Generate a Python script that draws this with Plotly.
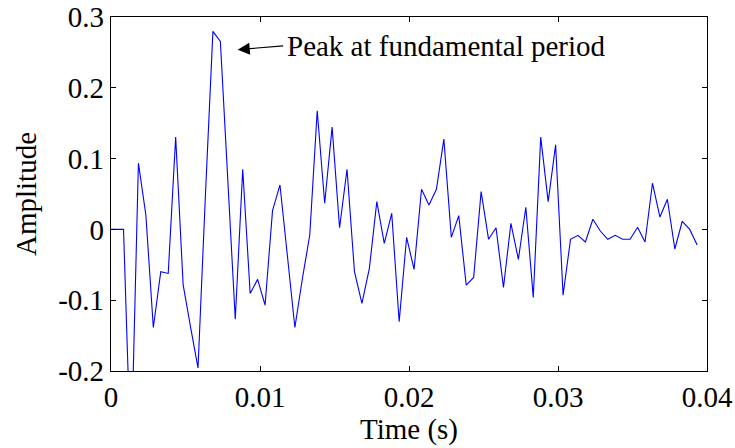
import numpy as np
import plotly.graph_objects as go

# Sampling grid (s)
t_start = 0.00084
dt = 0.0005

# Leading zero-padded section
pre_t = [0.0, 0.00034]
pre_v = [0.0, 0.0]

amplitude = [
    0.0, -0.33, 0.0935, 0.0204, -0.1385, -0.0598, -0.0622, 0.1303, -0.078, -0.138,
    -0.1957, 0.05, 0.2797, 0.2656, 0.07, -0.127, 0.085, -0.0905, -0.0706, -0.107,
    0.0265, 0.0628, -0.0375, -0.1385, -0.07, -0.008, 0.1675, 0.0369, 0.1444, 0.0024,
    0.085, -0.0598, -0.1046, -0.055, 0.0392, -0.0197, 0.0228, -0.1305, -0.0112, -0.0565,
    0.0567, 0.0345, 0.0567, 0.1275, -0.0112, 0.0194, -0.0787, -0.0678, 0.0534, -0.014,
    0.0024, -0.082, 0.0086, -0.0423, 0.0313, -0.096, 0.1303, 0.0392, 0.1194, -0.0928,
    -0.014, -0.0084, -0.0178, 0.0143, -0.0023, -0.014, -0.0084, -0.014, -0.014, 0.003,
    -0.0178, 0.0652, 0.0175, 0.0426, -0.0277, 0.0115, 0.0, -0.022,
]

x_ticks = [0, 0.01, 0.02, 0.03, 0.04]
x_ticktext = ["0", "0.01", "0.02", "0.03", "0.04"]
y_ticks = [-0.2, -0.1, 0, 0.1, 0.2, 0.3]
y_ticktext = ["-0.2", "-0.1", "0", "0.1", "0.2", "0.3"]

t = pre_t + list(t_start + dt * np.arange(len(amplitude)))
v = pre_v + amplitude

FONT = "Liberation Serif"
FS = 29

fig = go.Figure()
fig.add_trace(go.Scatter(x=t, y=v, mode="lines",
                         line=dict(color="#0000FF", width=1.1),
                         showlegend=False, hoverinfo="skip"))

axis_common = dict(showgrid=False, zeroline=False, showline=True, linecolor="black",
                   linewidth=1.3, mirror="allticks", ticks="inside", ticklen=5,
                   tickcolor="black", tickwidth=1.3, automargin=False,
                   tickfont=dict(family=FONT, size=FS, color="black"))

fig.update_xaxes(range=[0, 0.04], tickvals=x_ticks, ticktext=x_ticktext,
                 title=dict(text="Time (s)", font=dict(family=FONT, size=FS, color="black"), standoff=4),
                 **axis_common)
fig.update_yaxes(range=[-0.2, 0.3], tickvals=y_ticks, ticktext=y_ticktext,
                 title=dict(text="Amplitude", font=dict(family=FONT, size=FS, color="black"), standoff=12),
                 **axis_common)

# arrow
fig.add_annotation(x=0.0085, y=0.2538, xref="x", yref="y", text="",
                   showarrow=True, axref="pixel", ayref="pixel", ax=47, ay=-4,
                   arrowhead=2, arrowsize=2.2, arrowwidth=1.1, arrowcolor="black")
fig.add_annotation(x=0.01168, y=0.2596, xref="x", yref="y",
                   text="Peak at fundamental period", showarrow=False,
                   xanchor="left", yanchor="middle",
                   font=dict(family=FONT, size=FS, color="black"))

fig.update_layout(width=735, height=448, plot_bgcolor="white", paper_bgcolor="white",
                  margin=dict(l=111, r=28, t=17, b=77))

fig.write_html("out.html")
